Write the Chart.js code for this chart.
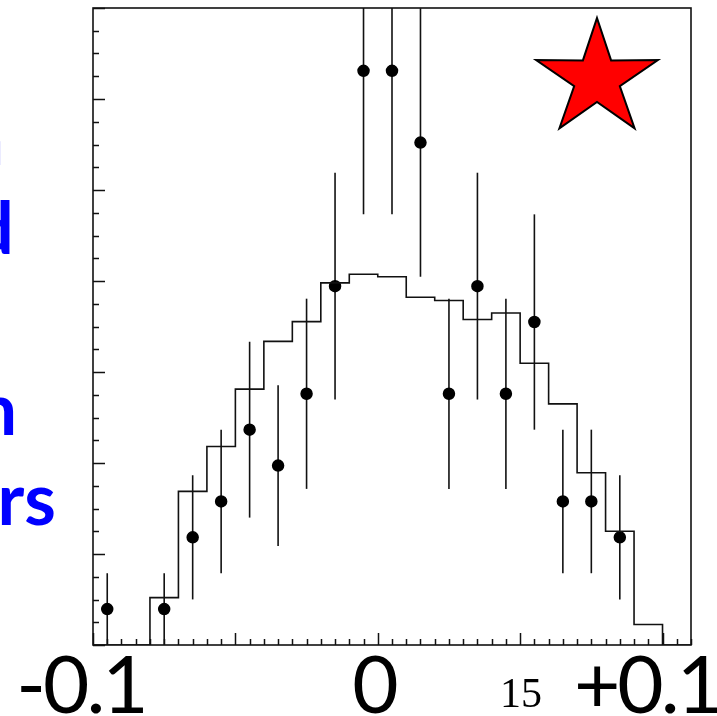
<!DOCTYPE html>
<html>
<head>
<meta charset="utf-8">
<script src="https://cdn.jsdelivr.net/npm/chart.js@4.4.1/dist/chart.umd.min.js"></script>
<style>
  body { margin: 0; background: #fff; }
  #wrap { position: relative; width: 717px; height: 716px; overflow: hidden; }
  #myChart { position: absolute; left: 0; top: 0; }
  .note { position: absolute; color: #0000ff; font: bold 72px Lato, sans-serif; line-height: 72px; white-space: nowrap; text-align: right; }
  .xlab { position: absolute; width: 200px; text-align: center; font: 80px Lato, sans-serif; line-height: 80px; color: #000; letter-spacing: -3px; }
  #page { position: absolute; left: 500px; top: 672px; font: 42px "Liberation Serif", serif; line-height: 42px; color: #000; }
  #star { position: absolute; left: 0; top: 0; }
</style>
</head>
<body>
<div id="wrap">
  <canvas id="myChart" width="717" height="716"></canvas>
  <div class="note" style="right:713px; top:101px">Histogram: simulation</div>
  <div class="note" style="right:703px; top:190px">expected</div>
  <div class="note" style="right:700px; top:371px">Points: observation</div>
  <div class="note" style="right:661px; top:461px">with errors</div>
  <div class="xlab" style="left:-19px; top:642px">-0.1</div>
  <div class="xlab" style="left:274px; top:642px">0</div>
  <div class="xlab" style="left:547px; top:642px">+0.1</div>
  <div id="page">15</div>
  <svg id="star" width="717" height="716"><polygon id="starShape" fill="#ff0000" stroke="#000" stroke-width="2" stroke-linejoin="miter"/></svg>
</div>
<script>
// histogram contents, one per bin (21 bins)
const histValues = [0, 0, 1.32, 4.28, 5.53, 7.13, 8.46, 9.01, 10.09, 10.33, 10.26,
                    9.69, 9.6, 9.07, 9.25, 7.85, 6.72, 4.8, 3.17, 0.57, 0];
// data points: bin number, counts, error
const pointBins = [0, 2, 3, 4, 5, 6, 7, 8, 9, 10, 11, 12, 13, 14, 15, 16, 17, 18];
const pointCounts = [1, 1, 3, 4, 6, 5, 7, 10, 16, 16, 14, 7, 10, 7, 9, 4, 4, 3];
const pointErrors = [1, 1, 1.73, 2, 2.45, 2.24, 2.65, 3.16, 4, 4, 3.74, 2.65, 3.16, 2.65, 3, 2, 2, 1.73];

const nBins = histValues.length;
const yMax = 17.75;
const xMinorStep = 0.5, xMajorEvery = 10;
const yMinorStep = yMax / 28, yMajorEvery = 4;

const histData = histValues.map((v, i) => ({x: i, y: v}));
histData.push({x: nBins, y: histValues[nBins - 1]});
const pointData = pointBins.map((b, i) => ({x: b + 0.5, y: pointCounts[i]}));

// error bars
const errorBars = {
    id: 'errorBars',
    beforeDatasetsDraw(chart) {
        const {ctx, chartArea: a, scales: {x, y}} = chart;
        ctx.save();
        ctx.beginPath();
        ctx.rect(a.left, a.top, a.right - a.left, a.bottom - a.top);
        ctx.clip();
        ctx.strokeStyle = '#111';
        ctx.lineWidth = 1.6;
        pointData.forEach((p, i) => {
            const px = x.getPixelForValue(p.x);
            ctx.beginPath();
            ctx.moveTo(px, y.getPixelForValue(p.y - pointErrors[i]));
            ctx.lineTo(px, y.getPixelForValue(p.y + pointErrors[i]));
            ctx.stroke();
        });
        ctx.restore();
    }
};

// frame and inward ticks, ROOT style
const frame = {
    id: 'frame',
    afterDraw(chart) {
        const {ctx, chartArea: a, scales: {x, y}} = chart;
        ctx.save();
        ctx.strokeStyle = '#111';
        ctx.lineWidth = 1.5;
        ctx.beginPath();
        for (let k = 0; k * xMinorStep <= nBins; k++) {
            const px = Math.round(x.getPixelForValue(k * xMinorStep)) + 0.5;
            const len = k % xMajorEvery === 0 ? 12 : 6;
            ctx.moveTo(px, a.bottom);
            ctx.lineTo(px, a.bottom - len);
        }
        for (let k = 0; k * yMinorStep <= yMax + 1e-6; k++) {
            const py = Math.round(y.getPixelForValue(k * yMinorStep)) + 0.5;
            const len = k % yMajorEvery === 0 ? 12 : 6;
            ctx.moveTo(a.left, py);
            ctx.lineTo(a.left + len, py);
        }
        ctx.stroke();
        ctx.lineWidth = 1.6;
        ctx.strokeRect(a.left, a.top, a.right - a.left, a.bottom - a.top);
        ctx.restore();
    }
};

const ctx1 = document.getElementById('myChart');
const myChart1 = new Chart(ctx1, {
    type: 'scatter',
    data: {
        datasets: [{
            type: 'line',
            data: histData,
            stepped: 'before',
            borderColor: '#111',
            borderWidth: 1.6,
            pointRadius: 0,
            fill: false
        }, {
            data: pointData,
            pointStyle: 'circle',
            pointRadius: 5.5,
            pointBorderWidth: 1.5,
            backgroundColor: '#000',
            borderColor: '#000'
        }]
    },
    options: {
        responsive: false,
        animation: false,
        layout: {padding: {left: 93, top: 8, right: 26, bottom: 71}},
        plugins: {legend: {display: false}, tooltip: {enabled: false}},
        scales: {
            x: {type: 'linear', min: 0, max: nBins, display: false},
            y: {min: 0, max: yMax, display: false}
        }
    },
    plugins: [errorBars, frame]
});

// red star decoration
const cx = 597, cy = 79;
const pts = [];
for (let i = 0; i < 10; i++) {
    const ang = -Math.PI / 2 + i * Math.PI / 5;
    const rx = i % 2 ? 24 : 64, ry = i % 2 ? 23 : 61;
    pts.push((cx + rx * Math.cos(ang)).toFixed(1) + ',' + (cy + ry * Math.sin(ang)).toFixed(1));
}
document.getElementById('starShape').setAttribute('points', pts.join(' '));
</script>
</body>
</html>
